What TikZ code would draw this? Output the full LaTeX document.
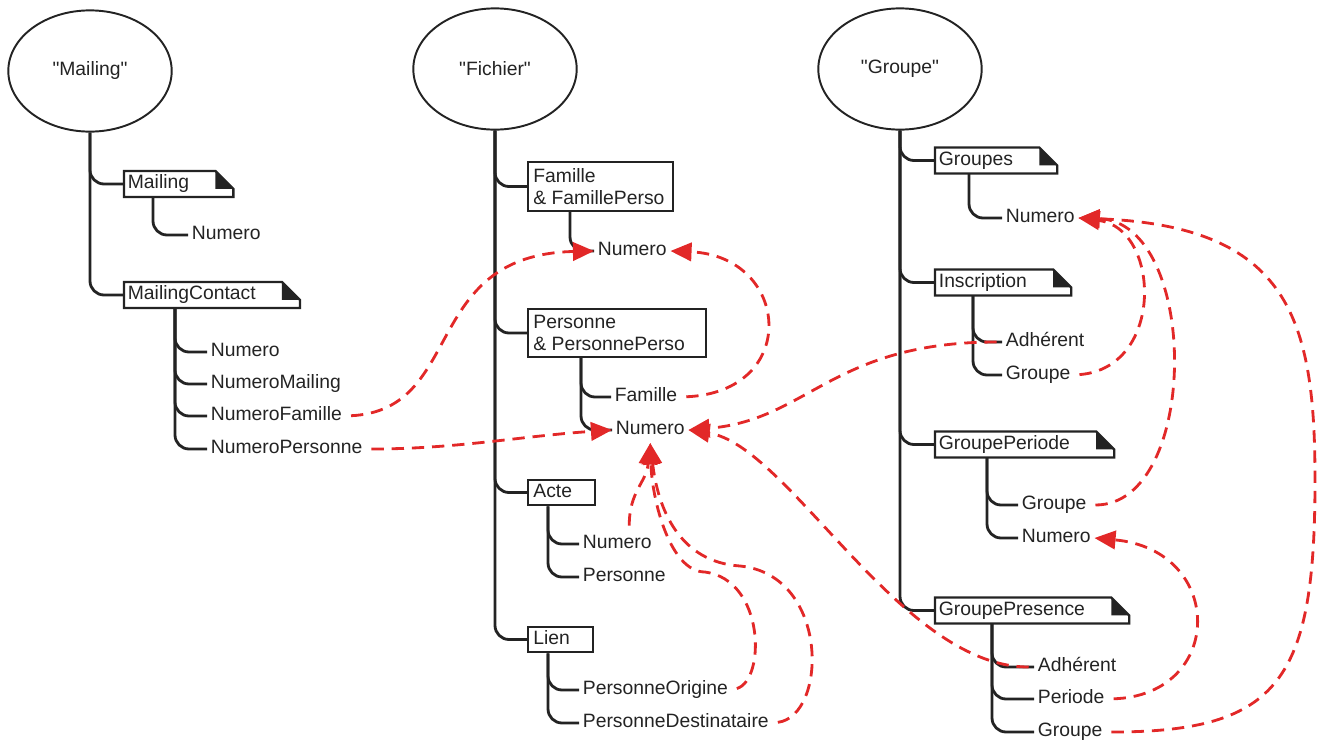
\documentclass[tikz,border=0pt]{standalone}
\usepackage{fontspec}
\setmainfont{Liberation Sans}
\newfontfamily\headfont{Liberation Sans}
\usetikzlibrary{shapes.geometric,arrows.meta}
\definecolor{linkred}{RGB}{226,40,40}
\definecolor{inkgray}{RGB}{35,35,35}

\begin{document}
\begin{tikzpicture}[x=0.02cm,y=-0.02cm,
    head node/.style={ellipse, draw=inkgray, line width=1.1pt, minimum width=93pt, minimum height=69pt, font=\headfont\fontsize{11}{12.5}\selectfont},
    table node/.style={anchor=west, inner sep=2pt, text height=8pt, text depth=2.5pt, execute at end node={\hspace*{23pt}}},
    box node/.style={anchor=west, draw=inkgray, line width=1.3pt, align=left, inner xsep=3pt, inner ysep=3.5pt},
    small box/.style={anchor=west, draw=inkgray, line width=1.3pt, inner xsep=3pt, inner ysep=2pt, text height=8pt, text depth=2.5pt, execute at end node={\hspace*{10pt}}},
    field node/.style={anchor=west, inner sep=2pt, text height=8pt, text depth=2.5pt},
    doc frame/.style={draw=inkgray, line width=1.3pt},
    trunk line/.style={draw=inkgray, line width=1.6pt, rounded corners=8pt},
    elbow/.style={to path={|- (\tikztotarget)}},
    fk link/.style={linkred, line width=1.6pt, dash pattern=on 7pt off 4.5pt, shorten <=3pt, -{Triangle[length=12pt,width=10.5pt]}}]
  \tikzstyle{every node}=[font=\fontsize{11}{12.5}\selectfont, text=inkgray]
  \useasboundingbox (0,0) rectangle (1325,744);

  % "Mailing"
  \node[head node] (mhead) at (90,71) {"Mailing"};
  \node[table node] (mtab) at (124,184) {Mailing};
  \node[field node] (mnum) at (188,235) {Numero};
  \node[table node] (mctab) at (124,295) {MailingContact};
  \node[field node] (mcnum) at (207,352) {Numero};
  \node[field node] (mcmail) at (207,384) {NumeroMailing};
  \node[field node] (mcfam) at (207,416) {NumeroFamille};
  \node[field node] (mcpers) at (207,449) {NumeroPersonne};

  % "Fichier"
  \node[head node] (fhead) at (495,69) {"Fichier"};
  \node[box node, execute at end node={\hspace*{2pt}}] (ftab) at (527,186.5) {Famille\\\& FamillePerso};
  \node[field node] (fnum) at (594,251) {Numero};
  \node[box node, execute at end node={\hspace*{9pt}}] (ptab) at (527,333) {Personne\\\& PersonnePerso};
  \node[field node] (pfam) at (611,397) {Famille};
  \node[field node] (pnum) at (612,430) {Numero};
  \node[small box] (atab) at (527,492.5) {Acte};
  \node[field node] (anum) at (579,544) {Numero};
  \node[field node] (apers) at (579,577) {Personne};
  \node[small box] (ltab) at (527,639.5) {Lien};
  \node[field node] (lorig) at (579,690) {PersonneOrigine};
  \node[field node] (ldest) at (579,723) {PersonneDestinataire};

  % "Groupe"
  \node[head node] (ghead) at (900,69) {"Groupe"};
  \node[table node] (gtab) at (935,160.5) {Groupes};
  \node[field node] (gnum) at (1002,218) {Numero};
  \node[table node] (itab) at (935,282.5) {Inscription};
  \node[field node] (iadh) at (1002,342) {Adhérent};
  \node[field node] (igrp) at (1002,375) {Groupe};
  \node[table node] (gptab) at (935,444.5) {GroupePeriode};
  \node[field node] (gpgrp) at (1018,505) {Groupe};
  \node[field node] (gpnum) at (1018,538) {Numero};
  \node[table node] (gprtab) at (935,610.5) {GroupePresence};
  \node[field node] (gradh) at (1034,667) {Adhérent};
  \node[field node] (grper) at (1034,699) {Periode};
  \node[field node] (grgrp) at (1034,732) {Groupe};

  % tables with folded corner
  \foreach \tbl in {mtab,mctab,gtab,itab,gptab,gprtab}{
    \draw[doc frame] (\tbl.south west) -- (\tbl.north west) -- ([shift={(-18,0)}]\tbl.north east)
      -- ([shift={(0,18)}]\tbl.north east) -- (\tbl.south east) -- cycle;
    \fill[inkgray] ([shift={(-18,0)}]\tbl.north east) -- ([shift={(-18,18)}]\tbl.north east)
      -- ([shift={(0,18)}]\tbl.north east) -- cycle;
  }

  % tree lines
  \path[trunk line] (mhead.south) edge[elbow] (mtab.west) edge[elbow] (mctab.west);
  \path[trunk line] ([shift={(29,0)}]mtab.south west) edge[elbow] (mnum.west);
  \path[trunk line] ([shift={(51,0)}]mctab.south west) edge[elbow] (mcnum.west)
    edge[elbow] (mcmail.west) edge[elbow] (mcfam.west) edge[elbow] (mcpers.west);

  \path[trunk line] (fhead.south) edge[elbow] (ftab.west) edge[elbow] (ptab.west)
    edge[elbow] (atab.west) edge[elbow] (ltab.west);
  \path[trunk line] ([shift={(43,0)}]ftab.south west) edge[elbow] (fnum.west);
  \path[trunk line] ([shift={(54,0)}]ptab.south west) edge[elbow] (pfam.west) edge[elbow] (pnum.west);
  \path[trunk line] ([shift={(21,0)}]atab.south west) edge[elbow] (anum.west) edge[elbow] (apers.west);
  \path[trunk line] ([shift={(21,0)}]ltab.south west) edge[elbow] (lorig.west) edge[elbow] (ldest.west);

  \path[trunk line] (ghead.south) edge[elbow] (gtab.west) edge[elbow] (itab.west)
    edge[elbow] (gptab.west) edge[elbow] (gprtab.west);
  \path[trunk line] ([shift={(34,0)}]gtab.south west) edge[elbow] (gnum.west);
  \path[trunk line] ([shift={(38,0)}]itab.south west) edge[elbow] (iadh.west) edge[elbow] (igrp.west);
  \path[trunk line] ([shift={(52,0)}]gptab.south west) edge[elbow] (gpgrp.west) edge[elbow] (gpnum.west);
  \path[trunk line] ([shift={(57,0)}]gprtab.south west) edge[elbow] (gradh.west)
    edge[elbow] (grper.west) edge[elbow] (grgrp.west);

  % foreign keys
  \draw[fk link] (mcfam.east) .. controls +(120,-6) and +(-174,4) .. (fnum.west);
  \draw[fk link] (pfam.east) .. controls +(120,-5) and +(120,5) .. (fnum.east);
  \draw[fk link] (mcpers.east) .. controls +(90,0) and +(-90,6) .. (pnum.west);
  \draw[fk link] (iadh.west) .. controls +(-170,0) and +(120,-10) .. (pnum.east);
  \draw[fk link] (gradh.west) .. controls +(-134,0) and +(100,15) .. (pnum.east);
  \draw[fk link] ([shift={(12,0)}]anum.north) .. controls +(0,-40) and +(-4,40) .. (pnum.south);
  \draw[fk link] (lorig.east) .. controls +(34,-10) and (765,580) .. (705,572)
    .. controls (670,572) and (652,500) .. (pnum.south);
  \draw[fk link] (ldest.east) .. controls +(55,-7) and (830,575) .. (740,566)
    .. controls (680,562) and (658,510) .. (pnum.south);
  \draw[fk link] (igrp.east) .. controls +(91,-7) and +(82,10) .. (gnum.east);
  \draw[fk link] (gpgrp.east) .. controls +(110,0) and +(122,4) .. (gnum.east);
  \draw[fk link] (grgrp.east) .. controls (1280,732) and (1315,680) .. (1315,480)
    .. controls (1315,320) and (1290,226) .. (gnum.east);
  \draw[fk link] (grper.east) .. controls +(117,-4) and +(131,12) .. (gpnum.east);
\end{tikzpicture}
\end{document}
